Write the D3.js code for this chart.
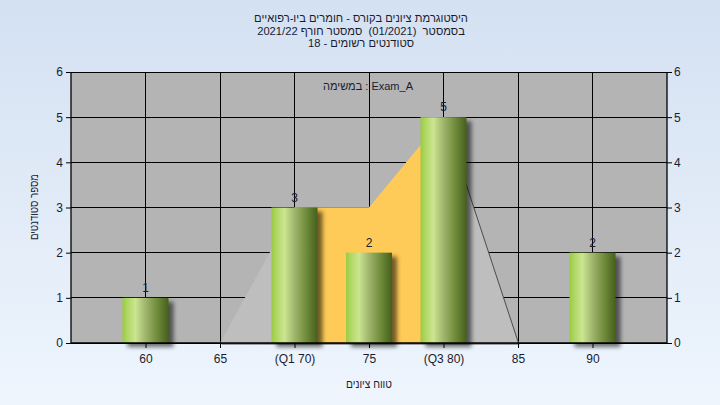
<!DOCTYPE html>
<html><head><meta charset="utf-8">
<script src="https://cdn.jsdelivr.net/npm/d3@7"></script>
<style>html,body{margin:0;padding:0;}svg{display:block;}</style>
</head><body>
<svg id="c" width="720" height="405"></svg>
<script>
const categories = ["60","65","(Q1 70)","75","(Q3 80)","85","90"];
const counts = [1,0,3,2,5,0,2];
const rangeArea = [0,0,3,3,5,0,0];
const iqrArea = [null,null,3,3,5,null,null];
const yTicks = [0,1,2,3,4,5,6];
const titleLines = ["היסטוגרמת ציונים בקורס - חומרים ביו-רפואיים","בסמסטר  (01/2021)  סמסטר חורף 2021/22","סטודנטים רשומים - 18"];
const examLabel = "במשימה : Exam_A";
const xTitle = "טווח ציונים";
const yTitle = "מספר סטודנטים";

const svg = d3.select("#c");
const W=720,H=405;
const L=71,R=667,T=72,B=343;
const font = "'Liberation Sans', Arial, 'Noto Sans', sans-serif";
const txt = "#1b1b2f";

const defs = svg.append("defs");
const bg = defs.append("linearGradient").attr("id","bg").attr("x1",0).attr("y1",0).attr("x2",0).attr("y2",1);
bg.append("stop").attr("offset","0%").attr("stop-color","#d4e1f2");
bg.append("stop").attr("offset","100%").attr("stop-color","#eef5fd");
const bar = defs.append("linearGradient").attr("id","bar").attr("x1",0).attr("y1",0).attr("x2",1).attr("y2",0);
[["0%","#9bcb42"],["12%","#b2d868"],["28%","#cbe591"],["50%","#9fb56c"],["75%","#708c3c"],["100%","#45601b"]]
  .forEach(([o,c])=>bar.append("stop").attr("offset",o).attr("stop-color",c));
const f = defs.append("filter").attr("id","sh").attr("x","-20%").attr("y","-20%").attr("width","150%").attr("height","150%");
f.append("feGaussianBlur").attr("stdDeviation",2.2);

svg.append("rect").attr("width",W).attr("height",H).attr("fill","url(#bg)");

const x = d3.scalePoint().domain(categories).range([L,R]).padding(1);
const y = d3.scaleLinear().domain([0,6]).range([B,T]);
const bw = 46;

svg.append("rect").attr("x",L).attr("y",T).attr("width",R-L).attr("height",B-T).attr("fill","#b4b4b4");

// grid
const g = svg.append("g").attr("stroke","#000").attr("stroke-width",1).attr("shape-rendering","crispEdges");
yTicks.forEach(t=>g.append("line").attr("x1",L).attr("x2",R).attr("y1",y(t)).attr("y2",y(t)));
categories.forEach(c=>g.append("line").attr("x1",x(c)).attr("x2",x(c)).attr("y1",T).attr("y2",B));

// areas
const area = d3.area().defined(d=>d!=null).x((d,i)=>x(categories[i])).y0(y(0)).y1(d=>y(d));
svg.append("path").attr("d",area(rangeArea)).attr("transform","translate(1.5,1.5)").attr("fill","#4a4a4a");
svg.append("path").attr("d",area(rangeArea)).attr("fill","#bebebe");
svg.append("path").attr("d",area(iqrArea)).attr("fill","#fecb58");

// bars
const data = categories.map((c,i)=>({c,v:counts[i]})).filter(d=>d.v>0);
svg.append("g").selectAll("rect").data(data).join("rect")
  .attr("x",d=>x(d.c)-bw/2+5).attr("y",d=>y(d.v)+4).attr("width",bw).attr("height",d=>y(0)-y(d.v))
  .attr("fill","#000").attr("opacity",0.55).attr("filter","url(#sh)");
svg.append("g").selectAll("rect").data(data).join("rect")
  .attr("x",d=>x(d.c)-bw/2).attr("y",d=>y(d.v)).attr("width",bw).attr("height",d=>y(0)-y(d.v))
  .attr("fill","url(#bar)");
svg.append("g").selectAll("text").data(data).join("text")
  .attr("x",d=>x(d.c)).attr("y",d=>y(d.v)-6).attr("text-anchor","middle")
  .attr("font-family",font).attr("font-size",12).attr("fill",txt).text(d=>d.v);

// axes
const axL = svg.append("g").attr("transform",`translate(${L},0)`).call(d3.axisLeft(y).tickValues(yTicks).tickSize(5).tickPadding(3).tickFormat(d3.format("d")));
const axR = svg.append("g").attr("transform",`translate(${R},0)`).call(d3.axisRight(y).tickValues(yTicks).tickSize(5).tickPadding(2).tickFormat(d3.format("d")));
const axB = svg.append("g").attr("transform",`translate(0,${B})`).call(d3.axisBottom(x).tickSize(5).tickPadding(6));
[axL,axR,axB].forEach(a=>{
  a.selectAll("path").attr("stroke","#000").attr("stroke-width",1.3);
  a.selectAll("line").attr("stroke","#000");
  a.selectAll("text").attr("font-family",font).attr("font-size",12).attr("fill",txt);
});
axB.select("path.domain").attr("d",`M${L},0H${R}`);
axL.select("path.domain").attr("d",`M0,${T}V${B}`);
axR.select("path.domain").attr("d",`M0,${T}V${B}`);

// titles
titleLines.forEach((t,i)=>svg.append("text").attr("x",361).attr("y",22+i*12.5).attr("text-anchor","middle")
  .attr("direction","rtl").style("white-space","pre").attr("font-family",font).attr("font-size",11.2).attr("fill",txt).text(t));
svg.append("text").attr("x",368).attr("y",90).attr("text-anchor","middle")
  .attr("font-family",font).attr("font-size",11).attr("fill",txt).text(examLabel);
svg.append("text").attr("x",369).attr("y",388).attr("text-anchor","middle").attr("direction","rtl")
  .attr("textLength",46).attr("lengthAdjust","spacingAndGlyphs")
  .attr("font-family",font).attr("font-size",11.5).attr("fill",txt).text(xTitle);
svg.append("text").attr("transform","translate(38,207) rotate(-90)").attr("text-anchor","middle").attr("direction","rtl")
  .attr("textLength",66).attr("lengthAdjust","spacingAndGlyphs")
  .attr("font-family",font).attr("font-size",11.5).attr("fill",txt).text(yTitle);
</script>
</body></html>
